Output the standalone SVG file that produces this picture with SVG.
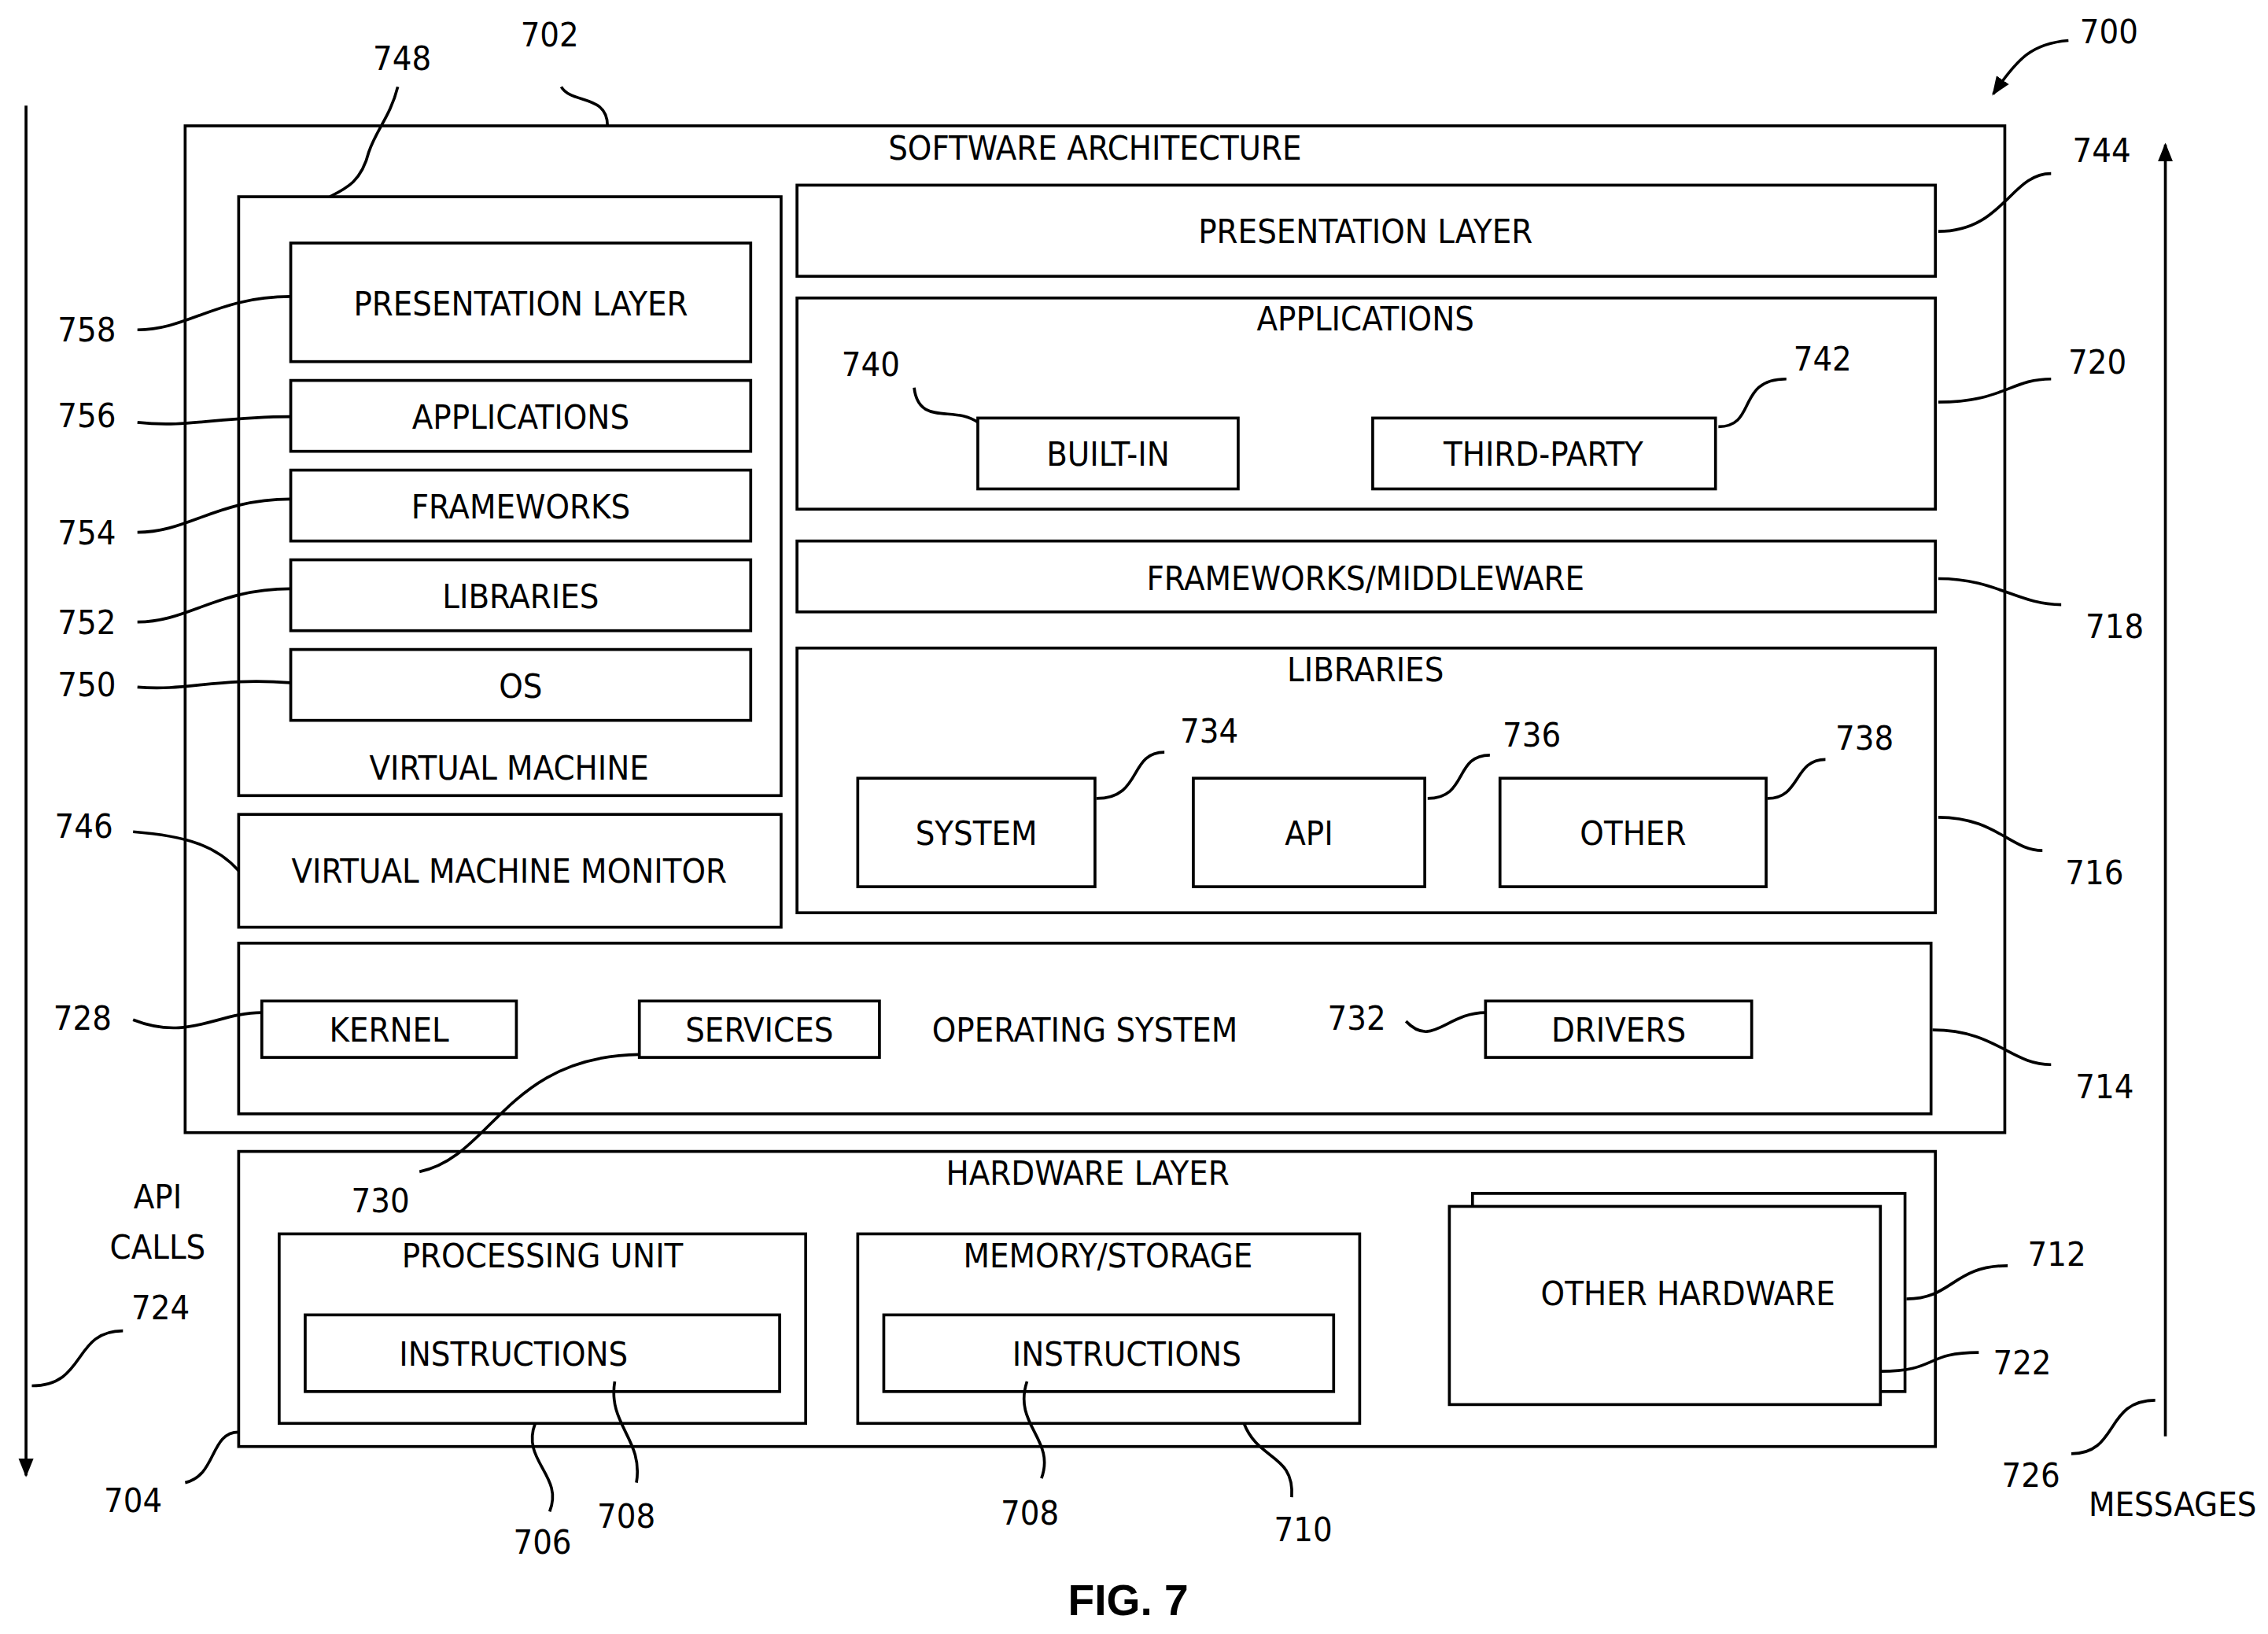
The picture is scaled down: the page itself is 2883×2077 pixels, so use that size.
<svg xmlns="http://www.w3.org/2000/svg" width="2883" height="2077" viewBox="0 0 2883 2077">
<style>
rect{fill:#fff;stroke:#000;stroke-width:2}
path{fill:none;stroke:#000;stroke-width:2}
text{font-family:"Liberation Sans Narrow","DejaVu Sans Condensed","Liberation Sans",sans-serif;font-stretch:condensed;font-size:23.5px;fill:#000;text-anchor:middle;dominant-baseline:central}
.b{font-family:"Liberation Sans",Arial,sans-serif;font-weight:bold;font-size:30px;font-stretch:normal}
</style>
<defs><marker id="ah" viewBox="0 0 10 10" refX="9" refY="5" markerWidth="13" markerHeight="13" orient="auto-start-reverse" markerUnits="userSpaceOnUse"><path d="M0,1 L10,5 L0,9 z" style="fill:#000;stroke:none"/></marker></defs>
<rect width="2883" height="2077" style="fill:#fff;stroke:none"/>
<g transform="scale(1.8387)">
<g id="software"><rect x="128" y="87" width="1258" height="696"/><text x="757" y="102">SOFTWARE ARCHITECTURE</text></g>
<g id="vm"><rect x="165" y="136" width="375" height="414"/>
<rect x="201" y="168" width="318" height="82"/><text x="360" y="210">PRESENTATION LAYER</text>
<rect x="201" y="263" width="318" height="49"/><text x="360" y="288">APPLICATIONS</text>
<rect x="201" y="325" width="318" height="49"/><text x="360" y="350">FRAMEWORKS</text>
<rect x="201" y="387" width="318" height="49"/><text x="360" y="412">LIBRARIES</text>
<rect x="201" y="449" width="318" height="49"/><text x="360" y="474">OS</text>
<text x="352" y="531">VIRTUAL MACHINE</text></g>
<g id="vmm"><rect x="165" y="563" width="375" height="78"/><text x="352" y="602">VIRTUAL MACHINE MONITOR</text></g>
<g id="pres"><rect x="551" y="128" width="787" height="63"/><text x="944" y="160">PRESENTATION LAYER</text></g>
<g id="apps"><rect x="551" y="206" width="787" height="146"/><text x="944" y="220">APPLICATIONS</text>
<rect x="676" y="289" width="180" height="49"/><text x="766" y="314">BUILT-IN</text>
<rect x="949" y="289" width="237" height="49"/><text x="1067" y="314">THIRD-PARTY</text></g>
<g id="fw"><rect x="551" y="374" width="787" height="49"/><text x="944" y="400">FRAMEWORKS/MIDDLEWARE</text></g>
<g id="libs"><rect x="551" y="448" width="787" height="183"/><text x="944" y="463">LIBRARIES</text>
<rect x="593" y="538" width="164" height="75"/><text x="675" y="576">SYSTEM</text>
<rect x="825" y="538" width="160" height="75"/><text x="905" y="576">API</text>
<rect x="1037" y="538" width="184" height="75"/><text x="1129" y="576">OTHER</text></g>
<g id="os"><rect x="165" y="652" width="1170" height="118"/>
<rect x="181" y="692" width="176" height="39"/><text x="269" y="712">KERNEL</text>
<rect x="442" y="692" width="166" height="39"/><text x="525" y="712">SERVICES</text>
<text x="750" y="712">OPERATING SYSTEM</text>
<rect x="1027" y="692" width="184" height="39"/><text x="1119" y="712">DRIVERS</text></g>
<g id="hw"><rect x="165" y="796" width="1173" height="204"/><text x="752" y="811">HARDWARE LAYER</text>
<rect x="193" y="853" width="364" height="131"/><text x="375" y="868">PROCESSING UNIT</text>
<rect x="211" y="909" width="328" height="53"/><text x="355" y="936">INSTRUCTIONS</text>
<rect x="593" y="853" width="347" height="131"/><text x="766" y="868">MEMORY/STORAGE</text>
<rect x="611" y="909" width="311" height="53"/><text x="779" y="936">INSTRUCTIONS</text>
<rect x="1018" y="825" width="299" height="137"/><rect x="1002" y="834" width="298" height="137"/><text x="1167" y="894">OTHER HARDWARE</text></g>
<g id="connectors">
<path d="M18,73 V1020" marker-end="url(#ah)"/>
<path d="M1497,993 V100" marker-end="url(#ah)"/>
<path d="M1430,28 C1405,30 1395,40 1378,65" marker-end="url(#ah)"/>
<path d="M388,60 C395,72 420,65 420,87"/>
<path d="M275,60 C270,80 260,90 255,105 C250,125 240,130 228,136"/>
<path d="M1418,120 C1390,120 1385,160 1340,160"/>
<path d="M1418,262 C1390,262 1385,278 1340,278"/>
<path d="M1425,418 C1395,418 1380,400 1340,400"/>
<path d="M1412,588 C1390,588 1380,565 1340,565"/>
<path d="M1418,736 C1390,736 1380,712 1336,712"/>
<path d="M1388,875 C1350,875 1350,898 1318,898"/>
<path d="M1368,935 C1330,935 1340,948 1300,948"/>
<path d="M95,228 C130,228 150,205 201,205"/>
<path d="M95,292 C130,296 150,288 201,288"/>
<path d="M95,368 C130,368 150,345 201,345"/>
<path d="M95,430 C130,430 150,407 201,407"/>
<path d="M95,475 C130,478 150,468 201,472"/>
<path d="M92,575 C130,578 150,585 165,602"/>
<path d="M92,705 C130,720 150,700 181,700"/>
<path d="M290,810 C340,800 350,730 442,729"/>
<path d="M972,706 C990,725 1000,700 1027,700"/>
<path d="M632,268 C635,295 660,280 676,292"/>
<path d="M1235,262 C1200,262 1215,295 1188,295"/>
<path d="M805,520 C780,520 790,552 758,552"/>
<path d="M1030,522 C1005,522 1015,552 987,552"/>
<path d="M1262,525 C1240,525 1245,552 1222,552"/>
<path d="M128,1025 C150,1020 145,990 165,990"/>
<path d="M380,1045 C390,1020 360,1010 370,984"/>
<path d="M440,1025 C445,995 420,985 425,955"/>
<path d="M720,1022 C730,995 700,985 710,955"/>
<path d="M893,1035 C895,1005 870,1010 860,984"/>
<path d="M22,958 C60,958 50,920 85,920"/>
<path d="M1432,1005 C1465,1005 1455,968 1490,968"/>
</g>
<g id="labels">
<text x="380" y="24">702</text><text x="278" y="40">748</text><text x="1458" y="22">700</text>
<text x="1453" y="104">744</text><text x="1450" y="250">720</text><text x="1462" y="433">718</text>
<text x="1448" y="603">716</text><text x="1455" y="751">714</text><text x="1422" y="867">712</text>
<text x="1398" y="942">722</text><text x="60" y="228">758</text><text x="60" y="287">756</text>
<text x="60" y="368">754</text><text x="60" y="430">752</text><text x="60" y="473">750</text>
<text x="58" y="571">746</text><text x="57" y="704">728</text><text x="263" y="830">730</text>
<text x="938" y="704">732</text><text x="602" y="252">740</text><text x="1260" y="248">742</text>
<text x="836" y="505">734</text><text x="1059" y="508">736</text><text x="1289" y="510">738</text>
<text x="92" y="1037">704</text><text x="375" y="1066">706</text><text x="433" y="1048">708</text>
<text x="712" y="1046">708</text><text x="901" y="1057">710</text>
<text x="109" y="827">API</text><text x="109" y="862">CALLS</text><text x="111" y="904">724</text>
<text x="1502" y="1040">MESSAGES</text><text x="1404" y="1020">726</text>
<text class="b" x="780" y="1106">FIG. 7</text>
</g>
</g>
</svg>
